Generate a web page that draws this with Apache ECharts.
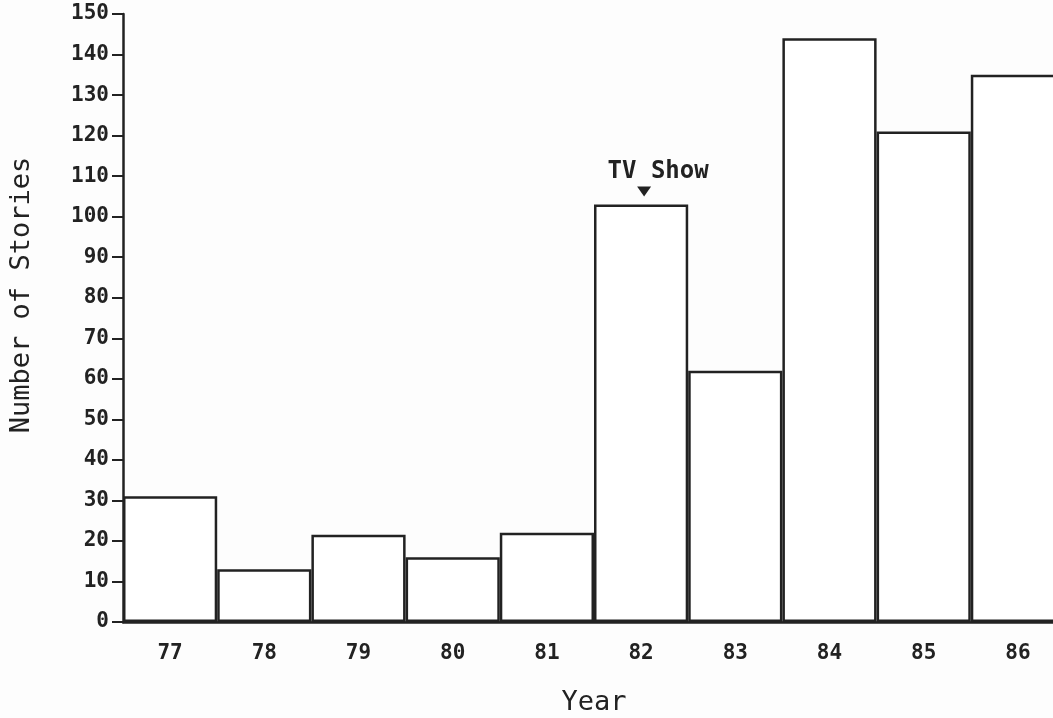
<!DOCTYPE html>
<html>
<head>
<meta charset="utf-8">
<script src="https://cdn.jsdelivr.net/npm/echarts@6/dist/echarts.min.js"></script>
<style>
html,body{margin:0;padding:0;background:#fdfdfd;}
#chart{width:1053px;height:718px;}
</style>
</head>
<body>
<div id="chart"></div>
<script>
const years = ['77','78','79','80','81','82','83','84','85','86'];
const stories = [31, 13, 21.5, 16, 22, 103, 62, 144, 121, 135];
const yTicks = [0,10,20,30,40,50,60,70,80,90,100,110,120,130,140,150];
const annotationYear = '82';
const annotationText = 'TV Show';

const font = '"DejaVu Sans Mono", monospace';
const chart = echarts.init(document.getElementById('chart'));
chart.setOption({
  backgroundColor: '#fdfdfd',
  animation: false,
  grid: {left: 123, right: -12, top: 14, bottom: 96, containLabel: false, outerBoundsMode: 'none'},
  xAxis: {
    type: 'category',
    data: years,
    name: 'Year',
    nameLocation: 'middle',
    nameGap: 67,
    nameTextStyle: {fontFamily: font, fontSize: 27, color: '#222'},
    axisLine: {lineStyle: {color: '#222', width: 2.5}},
    axisTick: {show: false},
    axisLabel: {fontFamily: font, fontSize: 21, fontWeight: 'bold', color: '#222', margin: 21}
  },
  yAxis: {
    type: 'value',
    min: yTicks[0],
    max: yTicks[yTicks.length-1],
    interval: yTicks[1]-yTicks[0],
    name: 'Number of Stories',
    nameLocation: 'middle',
    nameGap: 88,
    nameTextStyle: {fontFamily: font, fontSize: 27, color: '#222', padding: [0, 0, 0, 46]},
    axisLine: {show: true, lineStyle: {color: '#222', width: 2.5}},
    axisTick: {show: true, length: 11, lineStyle: {color: '#222', width: 2}},
    axisLabel: {fontFamily: font, fontSize: 21, fontWeight: 'bold', color: '#222', margin: 14},
    splitLine: {show: false}
  },
  series: [{
    type: 'bar',
    data: stories,
    barCategoryGap: '0%',
    itemStyle: {color: '#ffffff', borderColor: '#222', borderWidth: 2.5},
    markPoint: {
      symbol: 'triangle',
      symbolRotate: 180,
      symbolSize: [14, 10],
      symbolOffset: [3, -13],
      itemStyle: {color: '#222'},
      label: {show: true, position: 'top', distance: 3, offset: [14, 0], formatter: annotationText,
        fontFamily: font, fontSize: 24, fontWeight: 'bold', color: '#222'},
      data: [{coord: [annotationYear, stories[years.indexOf(annotationYear)]]}]
    }
  }]
});
</script>
</body>
</html>
